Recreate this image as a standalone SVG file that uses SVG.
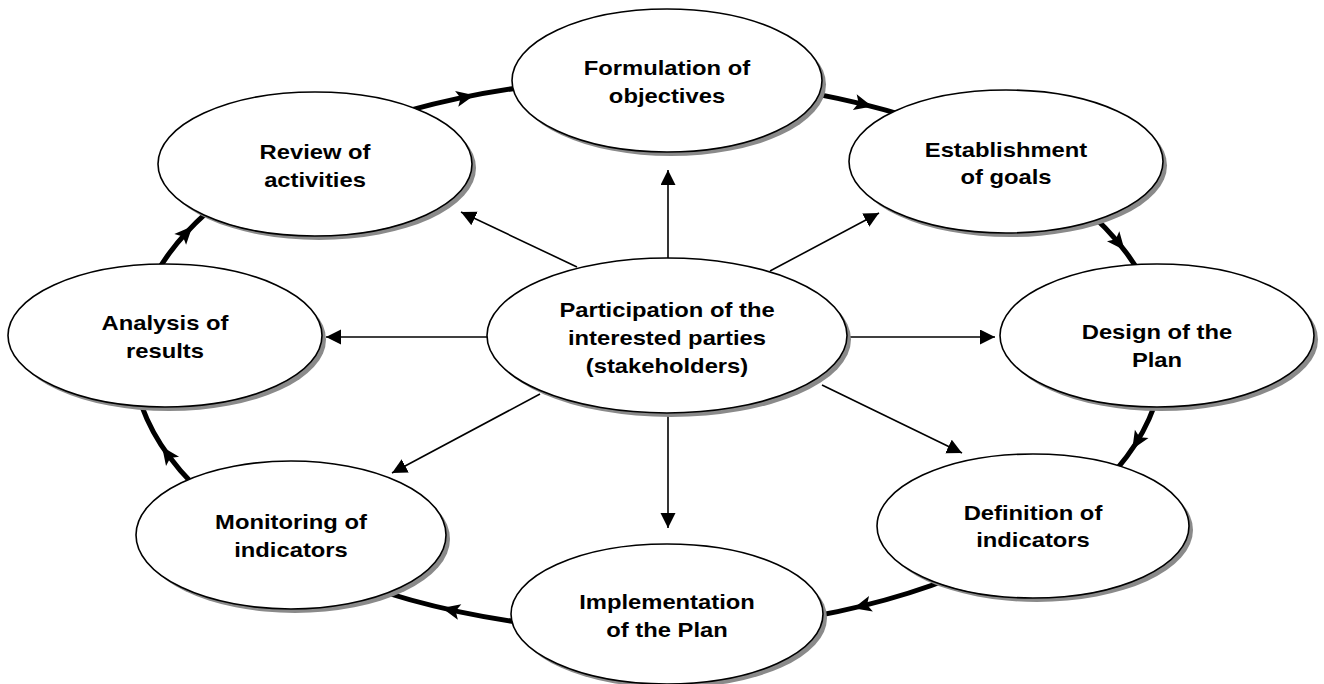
<svg xmlns="http://www.w3.org/2000/svg" xmlns:xlink="http://www.w3.org/1999/xlink" width="1324" height="684" viewBox="0 0 1324 684">
<style>
.shadow{fill:#8a8a8a;stroke:none}
.node{fill:#ffffff;stroke:#000000;stroke-width:1.6}
.lbl{font-family:"Liberation Sans",Arial,sans-serif;font-weight:bold;font-size:20.5px;fill:#000000;text-anchor:middle}
.ring{fill:none;stroke:#000000;stroke-width:5}
.spoke{fill:none;stroke:#000000;stroke-width:1.6;marker-end:url(#ah)}
</style>
<defs>
<marker id="ah" markerUnits="userSpaceOnUse" markerWidth="16" markerHeight="16" refX="15" refY="7.5" orient="auto">
<path d="M0,0 L15,7.5 L0,15 Z" fill="#000000"/>
</marker>
<path id="ra" d="M9,0 L-9,-8 L-5,0 L-9,8 Z" fill="#000000"/>
</defs>
<rect x="0" y="0" width="1324" height="684" fill="#ffffff"/>
<g id="connectors">
<ellipse class="ring" cx="648" cy="355" rx="515" ry="276"/>
<use xlink:href="#ra" transform="translate(465.5,97) rotate(-11.5)"/>
<use xlink:href="#ra" transform="translate(863.5,104.3) rotate(13.9)"/>
<use xlink:href="#ra" transform="translate(1118.9,243.2) rotate(50.4)"/>
<use xlink:href="#ra" transform="translate(1137,441.5) rotate(121.6)"/>
<use xlink:href="#ra" transform="translate(862.2,606) rotate(166.2)"/>
<use xlink:href="#ra" transform="translate(450.8,610) rotate(192.5)"/>
<use xlink:href="#ra" transform="translate(167.3,454) rotate(-125.6)"/>
<use xlink:href="#ra" transform="translate(186.3,232.8) rotate(-47.3)"/>
<line class="spoke" x1="668" y1="258" x2="668" y2="170"/>
<line class="spoke" x1="847" y1="337" x2="995" y2="337"/>
<line class="spoke" x1="487" y1="337" x2="326" y2="337"/>
<line class="spoke" x1="668" y1="413" x2="668" y2="528"/>
<line class="spoke" x1="577" y1="267" x2="461" y2="212"/>
<line class="spoke" x1="770" y1="271" x2="879" y2="213"/>
<line class="spoke" x1="540" y1="394" x2="392" y2="473"/>
<line class="spoke" x1="822" y1="385" x2="962" y2="453"/>
</g>
<g id="n-formulation">
<ellipse class="shadow" cx="671" cy="84.5" rx="155" ry="71.5"/>
<ellipse class="node" cx="667" cy="80.5" rx="155" ry="71.5"/>
<text class="lbl" transform="matrix(1.16 0 0 1 667 0)"><tspan x="0" y="75">Formulation of</tspan><tspan x="0" y="103">objectives</tspan></text>
</g>
<g id="n-establishment">
<ellipse class="shadow" cx="1010" cy="165.5" rx="157" ry="71.5"/>
<ellipse class="node" cx="1006" cy="161.5" rx="157" ry="71.5"/>
<text class="lbl" transform="matrix(1.16 0 0 1 1006 0)"><tspan x="0" y="157">Establishment</tspan><tspan x="0" y="184.5">of goals</tspan></text>
</g>
<g id="n-design">
<ellipse class="shadow" cx="1161" cy="339.5" rx="157" ry="71.5"/>
<ellipse class="node" cx="1157" cy="335.5" rx="157" ry="71.5"/>
<text class="lbl" transform="matrix(1.16 0 0 1 1157 0)"><tspan x="0" y="339">Design of the</tspan><tspan x="0" y="367">Plan</tspan></text>
</g>
<g id="n-definition">
<ellipse class="shadow" cx="1037" cy="530" rx="156" ry="72"/>
<ellipse class="node" cx="1033" cy="526" rx="156" ry="72"/>
<text class="lbl" transform="matrix(1.16 0 0 1 1033 0)"><tspan x="0" y="520">Definition of</tspan><tspan x="0" y="547.5">indicators</tspan></text>
</g>
<g id="n-implementation">
<ellipse class="shadow" cx="671" cy="618" rx="156" ry="70"/>
<ellipse class="node" cx="667" cy="614" rx="156" ry="70"/>
<text class="lbl" transform="matrix(1.16 0 0 1 667 0)"><tspan x="0" y="609">Implementation</tspan><tspan x="0" y="637">of the Plan</tspan></text>
</g>
<g id="n-monitoring">
<ellipse class="shadow" cx="295" cy="539" rx="155" ry="74"/>
<ellipse class="node" cx="291" cy="535" rx="155" ry="74"/>
<text class="lbl" transform="matrix(1.16 0 0 1 291 0)"><tspan x="0" y="529">Monitoring of</tspan><tspan x="0" y="557">indicators</tspan></text>
</g>
<g id="n-analysis">
<ellipse class="shadow" cx="169" cy="339.5" rx="157" ry="71.5"/>
<ellipse class="node" cx="165" cy="335.5" rx="157" ry="71.5"/>
<text class="lbl" transform="matrix(1.16 0 0 1 165 0)"><tspan x="0" y="330">Analysis of</tspan><tspan x="0" y="358">results</tspan></text>
</g>
<g id="n-review">
<ellipse class="shadow" cx="319" cy="168" rx="157" ry="72"/>
<ellipse class="node" cx="315" cy="164" rx="157" ry="72"/>
<text class="lbl" transform="matrix(1.16 0 0 1 315 0)"><tspan x="0" y="159">Review of</tspan><tspan x="0" y="187">activities</tspan></text>
</g>
<g id="n-center">
<ellipse class="shadow" cx="671" cy="339.5" rx="180" ry="77.5"/>
<ellipse class="node" cx="667" cy="335.5" rx="180" ry="77.5"/>
<text class="lbl" transform="matrix(1.16 0 0 1 667 0)"><tspan x="0" y="317.5">Participation of the</tspan><tspan x="0" y="345.5">interested parties</tspan><tspan x="0" y="373.5">(stakeholders)</tspan></text>
</g>
</svg>
